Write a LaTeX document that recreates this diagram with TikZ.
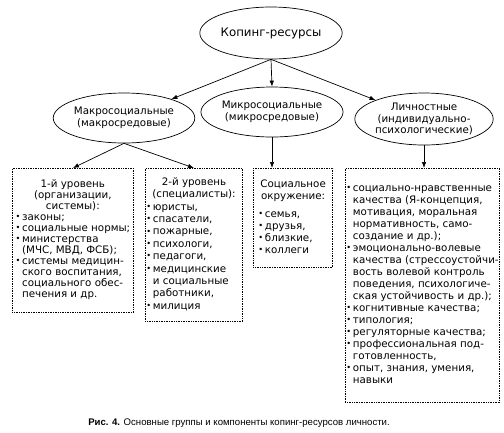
\documentclass[tikz,border=0pt]{standalone}
\usepackage{fontspec}
\setmainfont{Liberation Sans}
\newfontfamily\boxface{DejaVu Sans}
\usetikzlibrary{shapes.geometric,arrows.meta}
\newcommand\bul{\raisebox{0.8bp}{\scalebox{0.8}{\textbullet}}}
\newcommand\boxfont[1]{\boxface\fontsize{10.3bp}{#1}\selectfont}
\tikzset{
  oval/.style={ellipse, draw, line width=0.7bp, align=center, inner sep=0pt,
    font=\boxface\fontsize{10.3bp}{11.5bp}\selectfont},
  group/.style={draw, densely dotted, line width=0.7bp, anchor=north west,
    inner sep=1bp},
  link/.style={-{Latex[length=6bp,width=4.5bp]}, line width=0.7bp}
}
\begin{document}
\begin{tikzpicture}[x=1bp,y=-1bp]
  \useasboundingbox (0,0) rectangle (504,432);
  % Top level
  \node[oval, minimum width=137bp, minimum height=52bp,
    font=\boxface\fontsize{11.8bp}{13bp}\selectfont] (root) at (271,33) {Копинг-ресурсы};
  % Groups
  \node[oval, minimum width=105bp, minimum height=50bp] (macro) at (124,118)
    {Макросоциальные\\(макросредовые)};
  \node[oval, minimum width=105bp, minimum height=50bp] (micro) at (272,112)
    {Микросоциальные\\(микросредовые)};
  \node[oval, minimum width=108bp, minimum height=52bp] (pers) at (424,119)
    {Личностные\\(индивидуально-\\психологические)};
  % Components
  \node[group, minimum width=121bp, minimum height=144bp] (lvl1) at (12,168) {\boxfont{11bp}%
    \begin{tabular}{@{}l@{\,}l@{}}
      \multicolumn{2}{c}{1-й уровень}\\
      \multicolumn{2}{c}{(организации,}\\
      \multicolumn{2}{c}{системы):}\\
      \bul & законы;\\
      \bul & социальные нормы;\\
      \bul & министерства\\
           & (МЧС, МВД, ФСБ);\\
      \bul & системы медицин-\\
           & ского воспитания,\\
           & социального обес-\\
           & печения и др.
    \end{tabular}};
  \node[group, minimum width=97bp, minimum height=153bp] (lvl2) at (145,168) {\boxfont{12.4bp}%
    \begin{tabular}{@{}l@{\,}l@{}}
      \multicolumn{2}{c}{2-й уровень}\\
      \multicolumn{2}{c}{(специалисты):}\\
      \bul & юристы,\\
      \bul & спасатели,\\
      \bul & пожарные,\\
      \bul & психологи,\\
      \bul & педагоги,\\
      \bul & медицинские\\
           & и социальные\\
           & работники,\\
      \bul & милиция
    \end{tabular}};
  \node[group, minimum width=72bp, minimum height=99bp] (env) at (253,168) {\boxfont{12bp}%
    \begin{tabular}{@{}l@{\hspace{4bp}}l@{\,}l@{}}
      \multicolumn{3}{c}{Социальное}\\
      \multicolumn{3}{c}{окружение:}\\[6bp]
      & \bul & семья,\\
      & \bul & друзья,\\
      & \bul & близкие,\\
      & \bul & коллеги
    \end{tabular}};
  \node[group, minimum width=147bp, minimum height=234bp] (traits) at (345,168) {\boxfont{12bp}%
    \begin{tabular}{@{}l@{\,}l@{}}
      \bul & социально-нравственные\\
           & качества (Я-концепция,\\
           & мотивация, моральная\\
           & нормативность, само-\\
           & создание и др.);\\
      \bul & эмоционально-волевые\\
           & качества (стрессоустойчи-\\
           & вость волевой контроль\\
           & поведения, психологиче-\\
           & ская устойчивость и др.);\\
      \bul & когнитивные качества;\\
      \bul & типология;\\
      \bul & регуляторные качества;\\
      \bul & профессиональная под-\\
           & готовленность,\\
      \bul & опыт, знания, умения,\\
           & навыки
    \end{tabular}};
  % Caption
  \node[font=\fontsize{9.6bp}{11bp}\selectfont] (caption) at (239,423)
    {\textbf{Рис. 4.} Основные группы и компоненты копинг-ресурсов личности.};
  % Arrows
  \draw[link] (root.south) -- (macro);
  \draw[link] (root.south) -- (micro.north);
  \draw[link] (root.south) -- (pers);
  \draw[link] (macro.south) -- (lvl1.north);
  \draw[link] (macro.south) -- (lvl2.north);
  \draw[link] (micro.south) -- (micro.south |- env.north);
  \draw[link] (pers.south) -- (pers.south |- traits.north);
\end{tikzpicture}
\end{document}
